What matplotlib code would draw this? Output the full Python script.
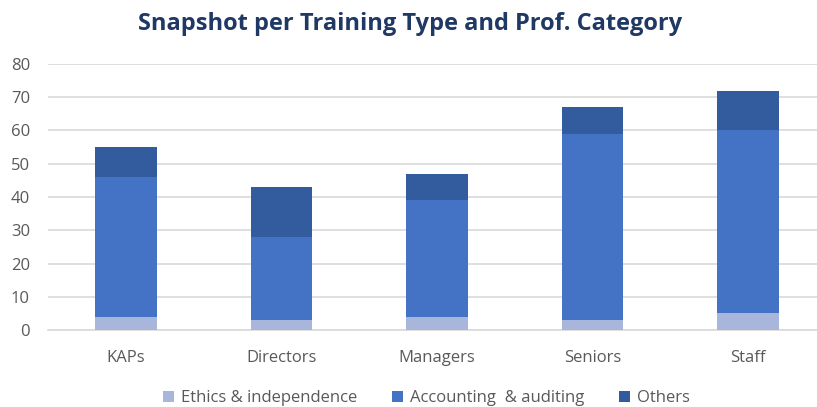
import matplotlib.pyplot as plt
import numpy as np

categories = ["KAPs", "Directors", "Managers", "Seniors", "Staff"]
ethics = [4, 3, 4, 3, 5]
accounting = [42, 25, 35, 56, 55]
others = [9, 15, 8, 8, 12]

series_names = ["Ethics & independence", "Accounting  & auditing", "Others"]
colors = ["#A9B6DC", "#4472C4", "#335C9F"]

plt.rcParams['font.family'] = ['Open Sans', 'DejaVu Sans']

fig = plt.figure(figsize=(8.17, 4.07), dpi=100)
ax = fig.add_axes([0.0588, 0.189, 0.952, 0.654])

x = np.arange(len(categories))
bottom = np.zeros(len(categories))
for vals, name, col in zip([ethics, accounting, others], series_names, colors):
    ax.bar(x, vals, width=0.395, bottom=bottom, color=col, label=name, zorder=3)
    bottom += np.array(vals)

ax.set_xlim(-0.5, len(categories) - 0.5)
ax.set_ylim(0, 80)
ax.set_yticks(range(0, 81, 10))
ax.set_xticks(x)
ax.set_xticklabels(categories)
ax.yaxis.grid(True, color="#D9D9D9", linewidth=1.2, zorder=0)
for s in ["top", "right", "left"]:
    ax.spines[s].set_visible(False)
ax.spines["bottom"].set_color("#D9D9D9")
ax.spines["bottom"].set_linewidth(1.2)
ax.tick_params(length=0, labelsize=12, labelcolor="#595959")
ax.tick_params(axis="x", pad=14)
ax.tick_params(axis="y", pad=13)

fig.suptitle("Snapshot per Training Type and Prof. Category", x=0.502, y=0.97,
             fontsize=17, fontweight="bold", color="#1F3864")

fig.legend(loc="lower center", bbox_to_anchor=(0.522, -0.035), ncol=3, frameon=False,
           fontsize=12, labelcolor="#595959", handlelength=0.65, handleheight=0.65,
           handletextpad=0.4, columnspacing=2.1)

fig.savefig("out.png", dpi=100)
